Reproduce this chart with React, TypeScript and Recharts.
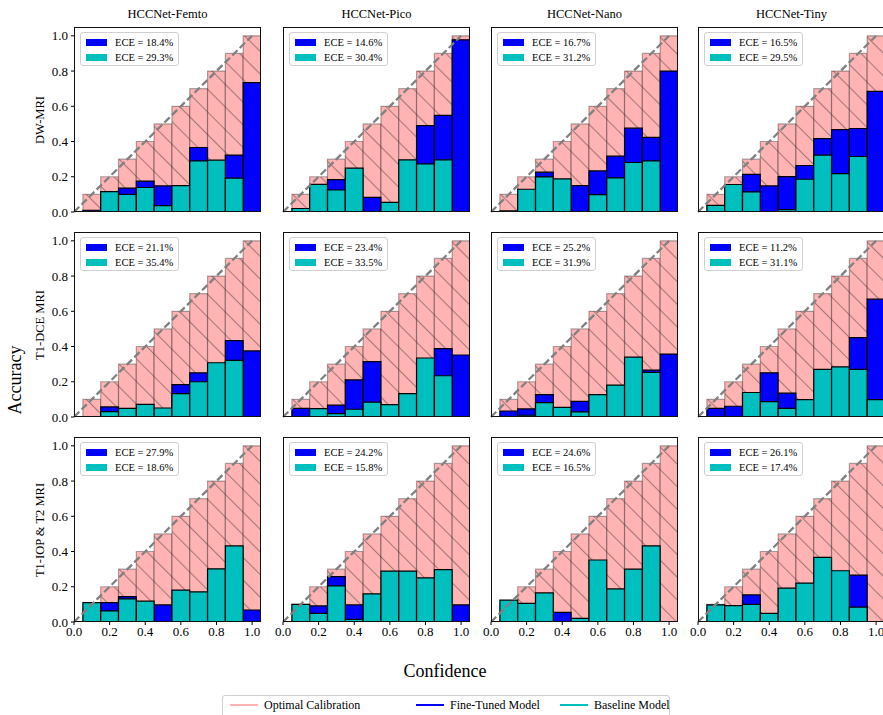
import React from 'react'
import { ComposedChart, Bar, XAxis, YAxis, ReferenceLine } from 'recharts'

const models = ['HCCNet-Femto', 'HCCNet-Pico', 'HCCNet-Nano', 'HCCNet-Tiny']
const sequences = ['DW-MRI', 'T1-DCE MRI', 'T1-IOP & T2 MRI']

const bins = [0.1, 0.2, 0.3, 0.4, 0.5, 0.6, 0.7, 0.8, 0.9, 1.0]
const optimal = [0.1, 0.2, 0.3, 0.4, 0.5, 0.6, 0.7, 0.8, 0.9, 1.0]
const axisTicks = [0, 0.2, 0.4, 0.6, 0.8, 1.0]

// accuracy per confidence bin, one list per model (Femto, Pico, Nano, Tiny)
const fineTunedDW = [
  [0.01, 0, 0.135, 0.175, 0.148, 0, 0.366, 0, 0.323, 0.734],
  [0, 0, 0.184, 0, 0.083, 0, 0, 0.49, 0.548, 0.977],
  [0.006, 0, 0.226, 0, 0.15, 0.233, 0.317, 0.476, 0.423, 0.8],
  [0, 0, 0.214, 0.148, 0.201, 0.264, 0.416, 0.467, 0.474, 0.685],
]
const baselineDW = [
  [0, 0.116, 0.1, 0.139, 0.036, 0.15, 0.29, 0.294, 0.192, 0],
  [0.02, 0.157, 0.125, 0.249, 0, 0.055, 0.296, 0.273, 0.296, 0],
  [0, 0.129, 0.199, 0.188, 0, 0.099, 0.194, 0.281, 0.29, 0],
  [0.038, 0.156, 0.114, 0, 0.013, 0.186, 0.323, 0.218, 0.315, 0],
]
const fineTunedDCE = [
  [0, 0.057, 0, 0, 0, 0.184, 0.251, 0, 0.433, 0.375],
  [0.049, 0, 0.067, 0.211, 0.314, 0, 0, 0, 0.388, 0.352],
  [0.034, 0.046, 0.127, 0, 0.089, 0, 0, 0, 0.266, 0.357],
  [0.049, 0.061, 0, 0.251, 0.135, 0, 0, 0, 0.451, 0.669],
]
const baselineDCE = [
  [0, 0.03, 0.049, 0.072, 0.051, 0.133, 0.2, 0.308, 0.321, 0],
  [0, 0.048, 0.019, 0.044, 0.084, 0.07, 0.133, 0.335, 0.234, 0],
  [0, 0.01, 0.082, 0.055, 0.029, 0.127, 0.181, 0.34, 0.253, 0],
  [0, 0, 0.139, 0.087, 0.049, 0.099, 0.27, 0.285, 0.27, 0.099],
]
const fineTunedIOP = [
  [0, 0.11, 0.144, 0, 0.097, 0, 0, 0, 0, 0.068],
  [0, 0.091, 0.257, 0.097, 0, 0, 0, 0, 0, 0.097],
  [0, 0, 0, 0.055, 0, 0, 0, 0, 0, 0],
  [0, 0, 0.154, 0, 0, 0, 0, 0, 0.266, 0],
]
const baselineIOP = [
  [0.11, 0.063, 0.131, 0.118, 0, 0.181, 0.171, 0.302, 0.432, 0],
  [0.1, 0.049, 0.205, 0.015, 0.16, 0.289, 0.289, 0.251, 0.297, 0],
  [0.124, 0.106, 0.165, 0, 0.021, 0.352, 0.188, 0.3, 0.432, 0],
  [0.097, 0.093, 0.1, 0.049, 0.192, 0.221, 0.367, 0.291, 0.084, 0],
]

const eceFineTuned = [
  [18.4, 14.6, 16.7, 16.5],
  [21.1, 23.4, 25.2, 11.2],
  [27.9, 24.2, 24.6, 26.1],
]
const eceBaseline = [
  [29.3, 30.4, 31.2, 29.5],
  [35.4, 33.5, 31.9, 31.1],
  [18.6, 15.8, 16.5, 17.4],
]

const fineTuned = [fineTunedDW, fineTunedDCE, fineTunedIOP]
const baseline = [baselineDW, baselineDCE, baselineIOP]

const FONT = "'Liberation Serif', 'Times New Roman', serif"
const PINK = '#ffb3b3'
const BLUE = '#0000ff'
const CYAN = '#00bfbf'

const COL_LEFT = [74, 283, 491, 698]
const ROW_TOP = [27, 232, 437]
const PLOT_W = 187
const PLOT_H = 185
const X_MAX = 1.05
// a hair under the bin spacing so recharts keeps the size; negative gap overlays the three series
const BAR = (0.1 * PLOT_W) / X_MAX - 0.05
const Y_AXIS_W = 30
const X_AXIS_H = 22
const PAD = 10

const tickStyle = { fontSize: 13, fill: '#000', fontFamily: FONT }

function Panel({ row, col }: { row: number; col: number }) {
  const ft = fineTuned[row][col]
  const bl = baseline[row][col]
  const data = bins.map((b, i) => ({ conf: b, optimal: optimal[i], fine: ft[i], base: bl[i] }))
  const showY = col === 0
  const showX = row === 2
  const leftSpace = showY ? Y_AXIS_W : PAD
  const width = PLOT_W + leftSpace + PAD
  const height = PLOT_H + 2 * PAD + (showX ? X_AXIS_H : 0)
  const hatchId = `hatch-${row}-${col}`

  return (
    <div style={{ position: 'absolute', left: COL_LEFT[col] - leftSpace, top: ROW_TOP[row] - PAD, fontFamily: FONT }}>
      <ComposedChart
        width={width}
        height={height}
        data={data}
        barGap={-BAR}
        style={{ fontFamily: FONT }}
        margin={{ top: PAD, right: PAD, bottom: PAD, left: showY ? 0 : PAD }}
      >
        <defs>
          <pattern id={hatchId} patternUnits="userSpaceOnUse" width={16} height={16} patternTransform="rotate(-45)">
            <rect x={0} y={0} width={16} height={16} fill={PINK} />
            <line x1={0.5} y1={0} x2={0.5} y2={16} stroke="rgba(0,0,0,0.34)" strokeWidth={1.1} />
          </pattern>
        </defs>
        <XAxis
          dataKey="conf"
          type="number"
          domain={[0, X_MAX]}
          allowDataOverflow
          ticks={axisTicks}
          interval={0}
          hide={!showX}
          height={X_AXIS_H}
          axisLine={false}
          tickSize={3}
          tickMargin={2}
          tickLine={{ stroke: '#000' }}
          tick={tickStyle}
          tickFormatter={(v: number) => v.toFixed(1)}
        />
        <YAxis
          type="number"
          domain={[0, X_MAX]}
          allowDataOverflow
          ticks={axisTicks}
          interval={0}
          hide={!showY}
          width={Y_AXIS_W}
          axisLine={false}
          tickSize={3}
          tickMargin={3}
          tickLine={{ stroke: '#000' }}
          tick={tickStyle}
          tickFormatter={(v: number) => v.toFixed(1)}
        />
        <Bar dataKey="optimal" barSize={BAR} fill={`url(#${hatchId})`} stroke="rgba(0,0,0,0.32)" strokeWidth={1.2} isAnimationActive={false} />
        <Bar dataKey="fine" barSize={BAR} fill={BLUE} stroke="#000" strokeWidth={1.2} isAnimationActive={false} />
        <Bar dataKey="base" barSize={BAR} fill={CYAN} stroke="#000" strokeWidth={1.2} isAnimationActive={false} />
        <ReferenceLine
          segment={[{ x: 0, y: 0 }, { x: 1, y: 1 }]}
          stroke="#808080"
          strokeWidth={2.3}
          strokeDasharray="7.4 3.2"
        />
      </ComposedChart>
      <div
        style={{
          position: 'absolute',
          left: leftSpace,
          top: PAD,
          width: PLOT_W,
          height: PLOT_H,
          boxSizing: 'border-box',
          border: '1px solid #111',
          pointerEvents: 'none',
        }}
      />
      <div
        style={{
          position: 'absolute',
          left: leftSpace + 6,
          top: PAD + 5,
          height: 34,
          padding: '0 5px 0 5px',
          boxSizing: 'border-box',
          border: '1px solid #d0d0d0',
          borderRadius: 3,
          background: 'rgba(255,255,255,0.85)',
          fontFamily: FONT,
          fontSize: 10.5,
          color: '#000',
        }}
      >
        {[
          { color: BLUE, value: eceFineTuned[row][col] },
          { color: CYAN, value: eceBaseline[row][col] },
        ].map((item, i) => (
          <div key={i} style={{ display: 'flex', alignItems: 'center', height: 15, marginTop: i === 0 ? 1.5 : 0 }}>
            <span style={{ display: 'inline-block', width: 21, height: 7, background: item.color, marginRight: 8 }} />
            <span style={{ whiteSpace: 'nowrap' }}>ECE = {item.value.toFixed(1)}%</span>
          </div>
        ))}
      </div>
    </div>
  )
}

const legendItems = [
  { label: 'Optimal Calibration', color: PINK, x: 230 },
  { label: 'Fine-Tuned Model', color: BLUE, x: 416 },
  { label: 'Baseline Model', color: CYAN, x: 560 },
]

export default function App() {
  return (
    <div
      style={{
        position: 'absolute',
        left: 0,
        top: 0,
        width: 883,
        height: 715,
        overflow: 'hidden',
        background: '#fff',
        fontFamily: FONT,
        color: '#000',
      }}
    >
      {models.map((m, c) => (
        <div
          key={m}
          style={{
            position: 'absolute',
            left: COL_LEFT[c],
            top: 6,
            width: PLOT_W,
            textAlign: 'center',
            fontSize: 12.5,
            lineHeight: '16px',
          }}
        >
          {m}
        </div>
      ))}
      {sequences.map((s, r) => (
        <div
          key={s}
          style={{
            position: 'absolute',
            left: 40,
            top: ROW_TOP[r] + PLOT_H / 2,
            transform: 'translate(-50%, -50%) rotate(-90deg)',
            whiteSpace: 'nowrap',
            fontSize: 12.5,
          }}
        >
          {s}
        </div>
      ))}
      {sequences.map((_, r) =>
        models.map((__, c) => <Panel key={`${r}-${c}`} row={r} col={c} />)
      )}
      <div
        style={{
          position: 'absolute',
          left: 15,
          top: 380,
          transform: 'translate(-50%, -50%) rotate(-90deg)',
          whiteSpace: 'nowrap',
          fontSize: 18,
        }}
      >
        Accuracy
      </div>
      <div
        style={{
          position: 'absolute',
          left: 445,
          top: 671,
          transform: 'translate(-50%, -50%)',
          whiteSpace: 'nowrap',
          fontSize: 18,
        }}
      >
        Confidence
      </div>
      <div
        style={{
          position: 'absolute',
          left: 222,
          top: 695,
          width: 448,
          height: 30,
          boxSizing: 'border-box',
          border: '1px solid #d0d0d0',
          borderRadius: 3,
        }}
      />
      {legendItems.map((it) => (
        <div
          key={it.label}
          style={{ position: 'absolute', left: it.x, top: 697, height: 16, display: 'flex', alignItems: 'center', fontSize: 12 }}
        >
          <span style={{ display: 'inline-block', width: 28, height: 2.5, background: it.color, marginRight: 6 }} />
          <span style={{ whiteSpace: 'nowrap' }}>{it.label}</span>
        </div>
      ))}
    </div>
  )
}
